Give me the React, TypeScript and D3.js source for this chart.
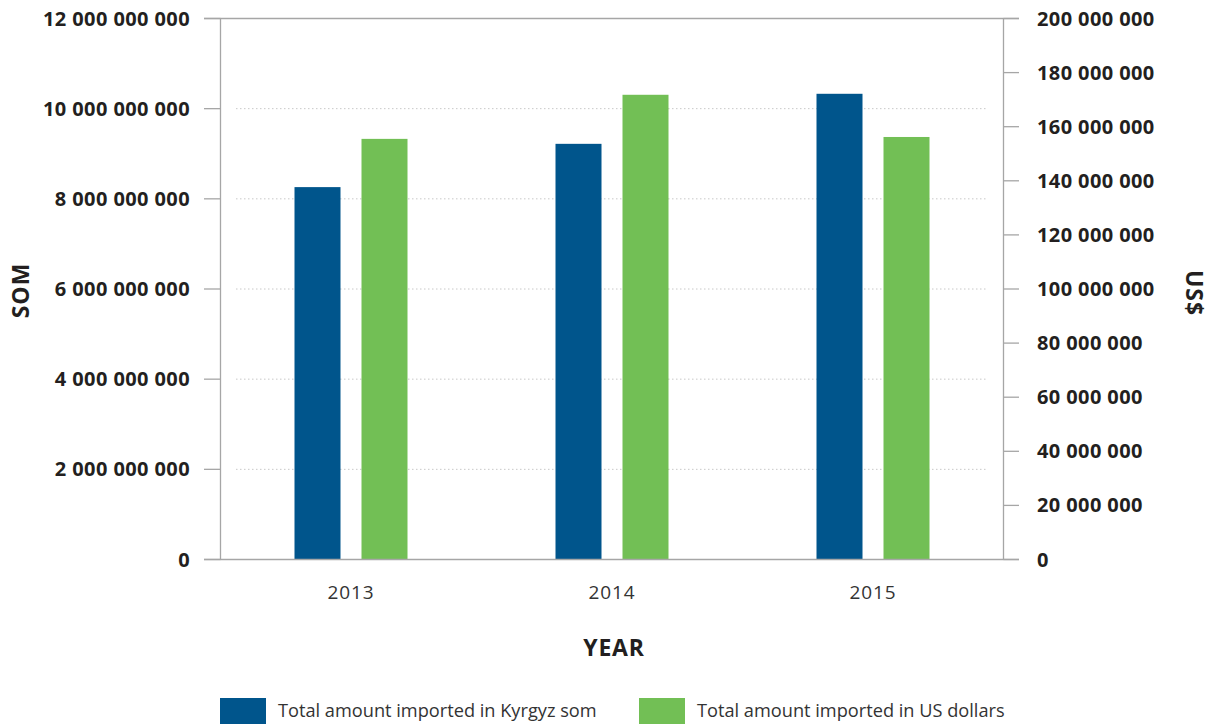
import React from "react";
import * as d3 from "d3";

const years = ["2013", "2014", "2015"];
const somValues = [8.26e9, 9.22e9, 10.33e9];
const usdValues = [155.5e6, 171.8e6, 156.2e6];
const leftTicks = [0, 2e9, 4e9, 6e9, 8e9, 10e9, 12e9];
const rightTicks = [0, 20e6, 40e6, 60e6, 80e6, 100e6, 120e6, 140e6, 160e6, 180e6, 200e6];
const seriesNames = ["Total amount imported in Kyrgyz som", "Total amount imported in US dollars"];
const seriesKeys = ["som", "usd"];
const colors = ["#00558c", "#72bf55"];

const W = 1215, H = 725;
const L = 220.5, R = 1003.5, T = 18.5, B = 559.5;
const fmt = (v: number) => {
  const s = Math.round(v).toString();
  return s.replace(/\B(?=(\d{3})+(?!\d))/g, " ");
};
const FONT = "'Open Sans', 'Noto Sans', sans-serif";

export default function App() {
  const x0 = d3.scaleBand<string>().domain(years).range([L, R]).padding(0);
  const x1 = d3.scaleBand<string>().domain(seriesKeys).range([74, 187]).paddingInner(21 / 67).paddingOuter(0);
  const yL = d3.scaleLinear().domain([0, 12e9]).range([B, T]);
  const yR = d3.scaleLinear().domain([0, 200e6]).range([B, T]);
  const axisColor = "#a6a6a6";
  const textColor = "#231f20";

  return (
    <svg width={W} height={H} style={{ position: "absolute", left: 0, top: 0 }} fontFamily={FONT}>
      <rect x={0} y={0} width={W} height={H} fill="#fff" />
      {/* dotted gridlines */}
      {leftTicks.filter(t => t > 0 && t < 12e9).map(t => (
        <line key={"g" + t} x1={236} x2={988} y1={yL(t)} y2={yL(t)} stroke="#c8c8c8" strokeWidth={1} strokeDasharray="1.5,2.5" />
      ))}
      {/* bars */}
      {years.map((yr, i) => (
        <g key={yr}>
          <rect x={x0(yr)! + x1("som")!} width={x1.bandwidth()} y={yL(somValues[i])} height={B - yL(somValues[i])} fill={colors[0]} />
          <rect x={x0(yr)! + x1("usd")!} width={x1.bandwidth()} y={yR(usdValues[i])} height={B - yR(usdValues[i])} fill={colors[1]} />
        </g>
      ))}
      {/* frame */}
      <line x1={204} x2={1019} y1={T} y2={T} stroke={axisColor} strokeWidth={1.3} />
      <line x1={204} x2={1019} y1={B} y2={B} stroke={axisColor} strokeWidth={1.3} />
      <line x1={L} x2={L} y1={T} y2={B} stroke={axisColor} strokeWidth={1.3} />
      <line x1={R} x2={R} y1={T} y2={B} stroke={axisColor} strokeWidth={1.3} />
      {/* left ticks */}
      {leftTicks.map(t => (
        <g key={"l" + t}>
          <line x1={204} x2={L} y1={yL(t)} y2={yL(t)} stroke={axisColor} strokeWidth={1.3} />
          <text x={190} y={yL(t)} dy="0.35em" textAnchor="end" fontSize={20} letterSpacing={0.4} fontWeight="bold" fill={textColor}>{fmt(t)}</text>
        </g>
      ))}
      {/* right ticks */}
      {rightTicks.map(t => (
        <g key={"r" + t}>
          <line x1={R} x2={1019} y1={yR(t)} y2={yR(t)} stroke={axisColor} strokeWidth={1.3} />
          <text x={1037} y={yR(t)} dy="0.35em" textAnchor="start" fontSize={20} letterSpacing={0.4} fontWeight="bold" fill={textColor}>{fmt(t)}</text>
        </g>
      ))}
      {/* x labels */}
      {years.map(yr => (
        <text key={"x" + yr} x={x0(yr)! + x0.bandwidth() / 2} y={592} dy="0.35em" textAnchor="middle" fontSize={19} letterSpacing={0.9} fill="#333">{yr}</text>
      ))}
      {/* axis titles */}
      <text x={614} y={648} dy="0.35em" textAnchor="middle" fontSize={23} letterSpacing={0.8} fontWeight="bold" fill={textColor}>YEAR</text>
      <text transform={`translate(20.5,290.5) rotate(-90)`} dy="0.35em" textAnchor="middle" fontSize={23} letterSpacing={1} fontWeight="bold" fill={textColor}>SOM</text>
      <text transform={`translate(1194,293) rotate(90)`} dy="0.35em" textAnchor="middle" fontSize={23} letterSpacing={1} fontWeight="bold" fill={textColor}>US$</text>
      {/* legend */}
      {seriesNames.map((n, i) => {
        const lx = i === 0 ? 220 : 639;
        return (
          <g key={n}>
            <rect x={lx} y={698} width={46} height={26} fill={colors[i]} />
            <text x={lx + 58} y={711} dy="0.35em" fontSize={18.2} fill="#333">{n}</text>
          </g>
        );
      })}
    </svg>
  );
}
